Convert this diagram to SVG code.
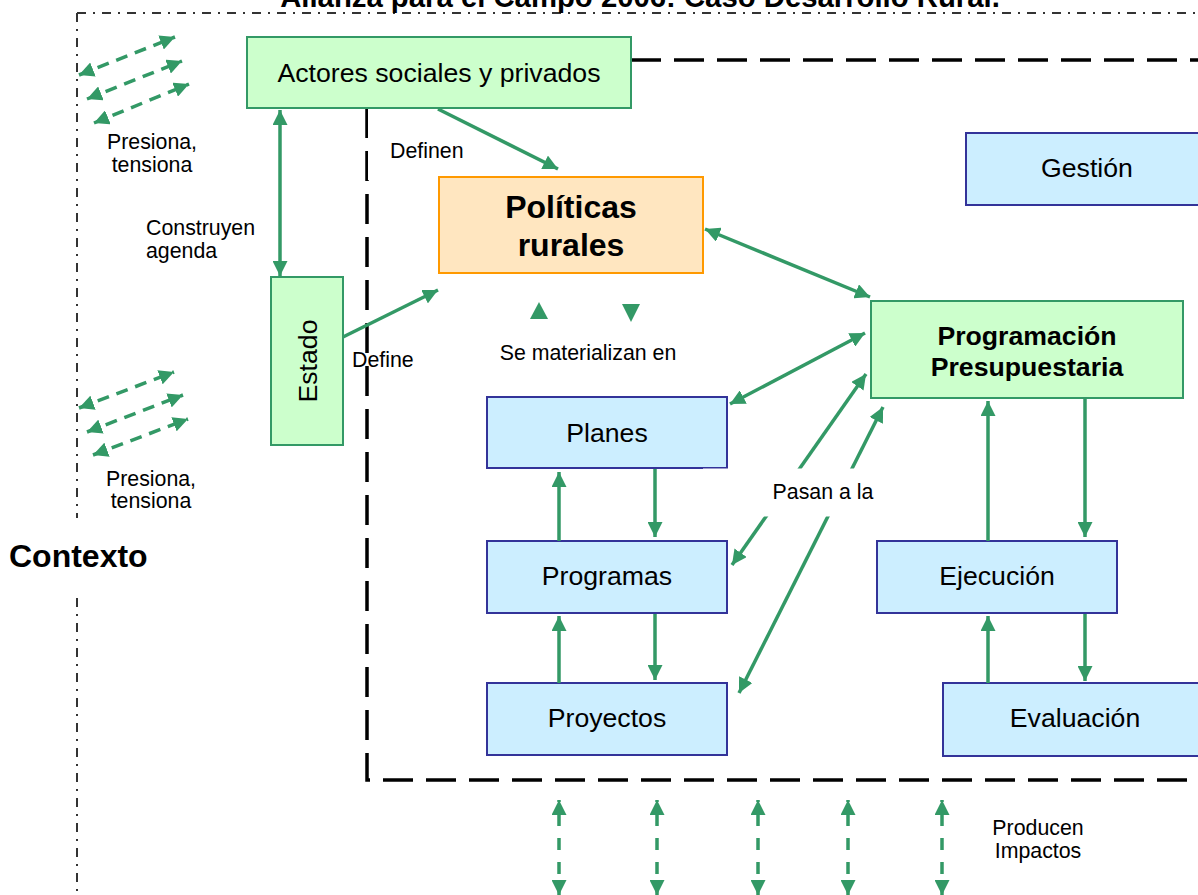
<svg xmlns="http://www.w3.org/2000/svg" width="1198" height="895" viewBox="0 0 1198 895">
<style>
.t{font-family:"Liberation Sans",Arial,sans-serif;fill:#000}
.n{font-size:26.67px;text-anchor:middle}
.nb{font-size:26.67px;font-weight:bold;text-anchor:middle}
.s{font-size:21.33px}
.c{text-anchor:middle}
.g{fill:#ccffcc;stroke:#339966;stroke-width:2}
.b{fill:#cceeff;stroke:#333399;stroke-width:2}
.o{fill:#ffe6c0;stroke:#ff9900;stroke-width:2}
.ln{stroke:#339966;stroke-width:3.5;fill:none}
.one{marker-end:url(#ah)}
.two{marker-start:url(#ah);marker-end:url(#ah)}
.dsh{stroke-dasharray:12 8}
.vd{stroke-dasharray:12 12;stroke-dashoffset:10}
</style>
<defs>
<marker id="ah" viewBox="0 0 15 15" refX="15" refY="7.5" markerWidth="15" markerHeight="15" markerUnits="userSpaceOnUse" orient="auto-start-reverse">
<path d="M0,0 L15,7.5 L0,15 z" fill="#339966"/>
</marker>
</defs>
<rect width="1198" height="895" fill="#fff"/>
<g id="frames">
<path d="M77,13 H1198 M77,13 V518 M77,598 V895" fill="none" stroke="#333" stroke-width="2" stroke-dasharray="9 7 2 7"/>
<path d="M631,60 H1198 M367,108 V780 H1198" fill="none" stroke="#000" stroke-width="3.5" stroke-dasharray="30 13"/>
<rect x="368" y="108" width="12" height="72" fill="#fff"/>
</g>
<text class="t" x="640" y="7" font-size="29.3" font-weight="bold" text-anchor="middle">Alianza para el Campo 2006: Caso Desarrollo Rural.</text>
<g id="actores"><rect class="g" x="247" y="37" width="384" height="71"/><text class="t n" x="439" y="82">Actores sociales y privados</text></g>
<g id="politicas"><rect class="o" x="439" y="177" width="264" height="96"/><text class="t" x="571" y="218" font-size="32" font-weight="bold" text-anchor="middle">Políticas</text><text class="t" x="571" y="256" font-size="32" font-weight="bold" text-anchor="middle">rurales</text></g>
<g id="gestion"><rect class="b" x="966" y="133" width="242" height="72"/><text class="t n" x="1087" y="177">Gestión</text></g>
<g id="estado"><rect class="g" x="271" y="277" width="72" height="168"/><text class="t n" transform="translate(317,361) rotate(-90)">Estado</text></g>
<g id="programacion"><rect class="g" x="871" y="301" width="312" height="97"/><text class="t nb" x="1027" y="345">Programación</text><text class="t nb" x="1027" y="376">Presupuestaria</text></g>
<g id="planes"><rect class="b" x="487" y="397" width="240" height="71"/><text class="t n" x="607" y="442">Planes</text></g>
<g id="programas"><rect class="b" x="487" y="541" width="240" height="72"/><text class="t n" x="607" y="585">Programas</text></g>
<g id="proyectos"><rect class="b" x="487" y="683" width="240" height="72"/><text class="t n" x="607" y="727">Proyectos</text></g>
<g id="ejecucion"><rect class="b" x="877" y="541" width="240" height="72"/><text class="t n" x="997" y="585">Ejecución</text></g>
<g id="evaluacion"><rect class="b" x="943" y="683" width="264" height="73"/><text class="t n" x="1075" y="727">Evaluación</text></g>
<g id="connectors">
<path class="ln two" d="M280,110 V276"/>
<path class="ln one" d="M438,109 L558,169"/>
<path class="ln one" d="M343,337 L438,290"/>
<path class="ln two" d="M705,229 L870,297"/>
<path class="ln two" d="M730,404 L865,333"/>
<path class="ln two" d="M732,565 L866,374"/>
<path class="ln two" d="M739,693 L883,407"/>
<path class="ln one" d="M655,469 V537"/>
<path class="ln one" d="M559,541 V472"/>
<path class="ln one" d="M655,614 V680"/>
<path class="ln one" d="M559,683 V616"/>
<path class="ln one" d="M988,541 V401"/>
<path class="ln one" d="M1085,399 V537"/>
<path class="ln one" d="M988,683 V616"/>
<path class="ln one" d="M1085,614 V681"/>
<polygon points="530,319 548,319 539,302" fill="#339966"/>
<polygon points="622,304 640,304 631,322" fill="#339966"/>
<path class="ln two dsh" d="M79,75 L175,37"/>
<path class="ln two dsh" d="M87,99 L182,61"/>
<path class="ln two dsh" d="M94,123 L189,84"/>
<path class="ln two dsh" d="M79,408 L174,372"/>
<path class="ln two dsh" d="M87,432 L183,395"/>
<path class="ln two dsh" d="M93,455 L188,419"/>
<path class="ln two vd" d="M559,800 V895"/>
<path class="ln two vd" d="M657,800 V895"/>
<path class="ln two vd" d="M758,800 V895"/>
<path class="ln two vd" d="M848,800 V895"/>
<path class="ln two vd" d="M942,800 V895"/>
</g>
<g id="labels">
<rect x="703" y="468.5" width="175" height="48" fill="#fff"/>
<text class="t s c" x="823" y="499">Pasan a la</text>
<text class="t s c" x="588" y="360">Se materializan en</text>
<text class="t s" x="390" y="158">Definen</text>
<text class="t s" x="352" y="367">Define</text>
<text class="t s" x="146" y="235">Construyen</text>
<text class="t s" x="146" y="258">agenda</text>
<text class="t s c" x="152" y="149">Presiona,</text>
<text class="t s c" x="152" y="172">tensiona</text>
<text class="t s c" x="151" y="486">Presiona,</text>
<text class="t s c" x="151" y="508">tensiona</text>
<text class="t s c" x="1038" y="835">Producen</text>
<text class="t s c" x="1038" y="858">Impactos</text>
<text class="t" x="9" y="567" font-size="32" font-weight="bold">Contexto</text>
</g>
</svg>
